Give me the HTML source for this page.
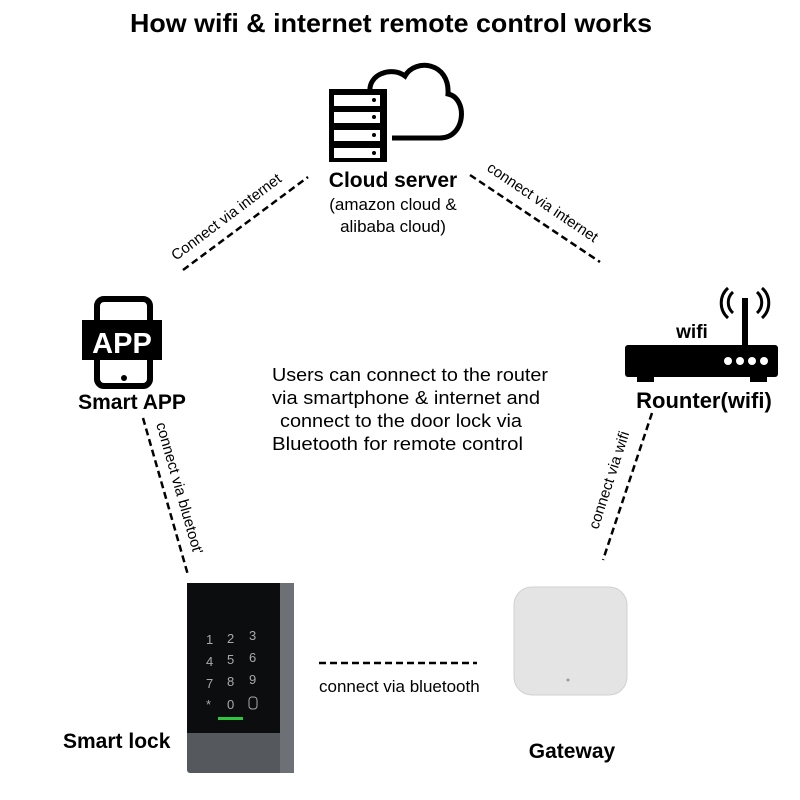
<!DOCTYPE html>
<html><head><meta charset="utf-8"><style>
body{margin:0;background:#fff;width:800px;height:800px;overflow:hidden}
svg{display:block}
text{font-family:"Liberation Sans",sans-serif;fill:#000}
.b{font-weight:bold}
</style></head><body>
<svg width="800" height="800" viewBox="0 0 800 800">
<text x="391" y="32" text-anchor="middle" class="b" font-size="26" textLength="522" lengthAdjust="spacingAndGlyphs">How wifi &amp; internet remote control works</text>
<!-- cloud -->
<path d="M370,92 C368,74 392,66 405,76 C415,58 450,62 448,94 C468,98 466,138 440,138 L392,138" fill="none" stroke="#000" stroke-width="5"/>
<rect x="329" y="89" width="58" height="73" fill="#000"/>
<g fill="#fff"><rect x="334" y="95" width="46" height="11"/><rect x="334" y="112" width="46" height="11"/><rect x="334" y="130" width="46" height="11"/><rect x="334" y="148" width="46" height="10"/></g>
<g fill="#000"><circle cx="374" cy="100" r="2"/><circle cx="374" cy="117" r="2"/><circle cx="374" cy="135" r="2"/><circle cx="374" cy="153" r="2"/></g>
<text x="393" y="187" text-anchor="middle" class="b" font-size="21">Cloud server</text>
<text x="393" y="210" text-anchor="middle" font-size="17">(amazon cloud &amp;</text>
<text x="393" y="232" text-anchor="middle" font-size="17">alibaba cloud)</text>
<g stroke="#000" stroke-width="2.5" stroke-dasharray="7,4" fill="none">
<line x1="183" y1="270" x2="308" y2="177"/>
<line x1="470" y1="175" x2="600" y2="262"/>
<line x1="143" y1="418" x2="188" y2="575"/>
<line x1="652" y1="413" x2="603" y2="560"/>
<line x1="319" y1="663" x2="477" y2="663"/>
</g>
<text transform="translate(176,261) rotate(-37)" font-size="15">Connect via internet</text>
<text transform="translate(486,170) rotate(34)" font-size="15">connect via internet</text>
<text transform="translate(156,424) rotate(74)" font-size="15">connect via bluetoot'</text>
<text transform="translate(598,530) rotate(-72)" font-size="15">connect via wifi</text>
<!-- phone -->
<rect x="97" y="299" width="53" height="87" rx="7" fill="none" stroke="#000" stroke-width="6"/>
<circle cx="124" cy="378" r="3" fill="#000"/>
<rect x="82" y="320" width="80" height="40" fill="#000"/>
<text x="122" y="353" text-anchor="middle" class="b" font-size="29" style="fill:#fff">APP</text>
<text x="132" y="409" text-anchor="middle" class="b" font-size="21">Smart APP</text>
<!-- router -->
<path d="M733,292 A14,14 0 0 0 733,313 M728,288 A20,20 0 0 0 728,318 M757,292 A14,14 0 0 1 757,313 M762,288 A20,20 0 0 1 762,318" fill="none" stroke="#000" stroke-width="3"/>
<rect x="742" y="298" width="6" height="50" fill="#000"/>
<rect x="625" y="345" width="153" height="32" rx="3" fill="#000"/>
<rect x="637" y="375" width="17" height="7" fill="#000"/><rect x="750" y="375" width="17" height="7" fill="#000"/>
<g fill="#fff"><circle cx="728" cy="361" r="4"/><circle cx="740" cy="361" r="4"/><circle cx="752" cy="361" r="4"/><circle cx="764" cy="361" r="4"/></g>
<text x="692" y="338" text-anchor="middle" class="b" font-size="19">wifi</text>
<text x="704" y="408" text-anchor="middle" class="b" font-size="22">Rounter(wifi)</text>
<!-- center text -->
<g font-size="18">
<text x="272" y="381" textLength="276" lengthAdjust="spacingAndGlyphs">Users can connect to the router</text>
<text x="272" y="404" textLength="268" lengthAdjust="spacingAndGlyphs">via smartphone &amp; internet and</text>
<text x="280" y="427" textLength="242" lengthAdjust="spacingAndGlyphs">connect to the door lock via</text>
<text x="272" y="450" textLength="251" lengthAdjust="spacingAndGlyphs">Bluetooth for remote control</text>
</g>
<!-- lock -->
<rect x="187" y="583" width="107" height="190" rx="3" fill="#55585c"/>
<rect x="187" y="583" width="93" height="150" fill="#0c0d0f"/>
<rect x="280" y="583" width="14" height="190" fill="#6d7075"/>
<g font-size="13">
<text x="206" y="644" style="fill:#aaa">1</text><text x="227" y="643" style="fill:#aaa">2</text><text x="249" y="640" style="fill:#aaa">3</text>
<text x="206" y="666" style="fill:#aaa">4</text><text x="227" y="664" style="fill:#aaa">5</text><text x="249" y="662" style="fill:#aaa">6</text>
<text x="206" y="688" style="fill:#aaa">7</text><text x="227" y="686" style="fill:#aaa">8</text><text x="249" y="684" style="fill:#aaa">9</text>
<text x="206" y="709" style="fill:#aaa">*</text><text x="227" y="709" style="fill:#aaa">0</text>
</g>
<rect x="249" y="697" width="8" height="12" rx="3" fill="none" stroke="#aaa"/>
<rect x="218" y="717" width="25" height="3" fill="#2ec53f"/>
<text x="63" y="748" class="b" font-size="21">Smart lock</text>
<!-- gateway -->
<rect x="514" y="587" width="113" height="108" rx="18" fill="#e4e4e4" stroke="#d0d0d0"/>
<circle cx="568" cy="680" r="1.5" fill="#999"/>
<text x="572" y="758" text-anchor="middle" class="b" font-size="21">Gateway</text>
<text x="319" y="692" font-size="17">connect via bluetooth</text>
</svg>
</body></html>
